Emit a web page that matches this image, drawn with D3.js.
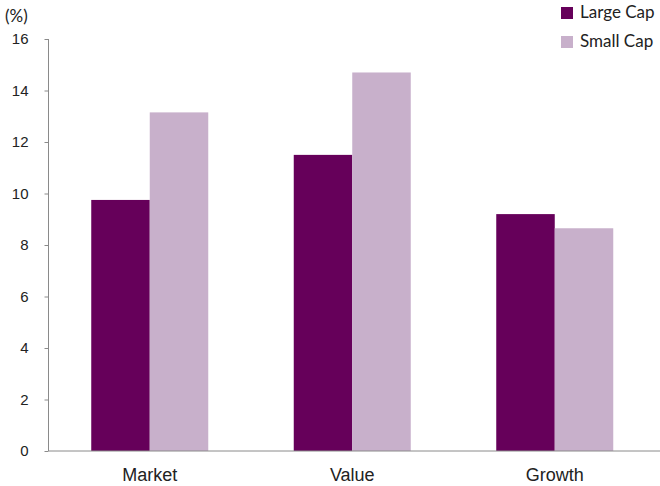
<!DOCTYPE html>
<html>
<head>
<meta charset="utf-8">
<script src="https://cdn.jsdelivr.net/npm/d3@7/dist/d3.min.js"></script>
<style>
  html, body { margin: 0; padding: 0; background: #fff; }
  svg { display: block; font-family: Lato, "Open Sans", sans-serif; }
</style>
</head>
<body>
<svg id="chart" width="660" height="486"></svg>
<script>
// Annualised returns by style, large vs small cap
const categories = ["Market", "Value", "Growth"];
const seriesNames = ["Large Cap", "Small Cap"];
const largeCap = [9.75, 11.5, 9.2];
const smallCap = [13.15, 14.7, 8.65];
const yTicks = [0, 2, 4, 6, 8, 10, 12, 14, 16];
const colors = ["#66005a", "#c8b0cb"];

const svg = d3.select("#chart");
const W = 660, H = 486;
const plotLeft = 48.5, plotRight = 656, plotTop = 39, plotBottom = 451;

const x0 = d3.scaleBand().domain(categories).range([plotLeft, plotRight]).padding(0);
const barW = 58.5;
const x1 = d3.scaleBand().domain(seriesNames)
  .range([x0.bandwidth() / 2 - barW, x0.bandwidth() / 2 + barW]).padding(0);
const y = d3.scaleLinear().domain([0, 16]).range([plotBottom, plotTop]);

const rows = categories.map((c, i) => ({ cat: c, values: [largeCap[i], smallCap[i]] }));

// bars
const g = svg.append("g");
g.selectAll("g.cat").data(rows).join("g")
  .attr("class", "cat")
  .attr("transform", d => `translate(${x0(d.cat)},0)`)
  .selectAll("rect").data(d => d.values.map((v, j) => ({ s: seriesNames[j], v, j })))
  .join("rect")
  .attr("x", d => x1(d.s))
  .attr("width", x1.bandwidth())
  .attr("y", d => y(d.v))
  .attr("height", d => y(0) - y(d.v))
  .attr("fill", d => colors[d.j]);

// y axis
const yAxis = d3.axisLeft(y).tickValues(yTicks).tickSize(4).tickPadding(16).tickFormat(d3.format("d"));
const ya = svg.append("g").attr("transform", `translate(${plotLeft},0)`).call(yAxis);
ya.select(".domain").attr("stroke", "#8a8a8a").attr("d", `M0,${plotTop}V${plotBottom}`);
ya.selectAll(".tick line").attr("stroke", "#8a8a8a");
ya.selectAll(".tick text").attr("fill", "#222").attr("font-size", 15);

// baseline and category labels
const xAxis = d3.axisBottom(x0).tickSize(0).tickPadding(17);
const xa = svg.append("g").attr("transform", `translate(0,${plotBottom})`).call(xAxis);
xa.select(".domain").attr("stroke", "#8a8a8a").attr("d", `M${plotLeft},0H${W}`);
xa.selectAll(".tick text").attr("fill", "#222").attr("font-size", 18);

// unit label
svg.append("text").attr("x", 5).attr("y", 22).attr("fill", "#222")
  .attr("font-size", 17).text("(%)");

// legend
const leg = svg.append("g").attr("transform", "translate(561,7)");
const li = leg.selectAll("g").data(seriesNames).join("g")
  .attr("transform", (d, i) => `translate(0,${i * 29})`);
li.append("rect").attr("width", 12).attr("height", 12).attr("fill", (d, i) => colors[i]);
li.append("text").attr("x", 19).attr("y", 10.5).attr("fill", "#222")
  .attr("font-size", 17).text(d => d);
</script>
</body>
</html>
